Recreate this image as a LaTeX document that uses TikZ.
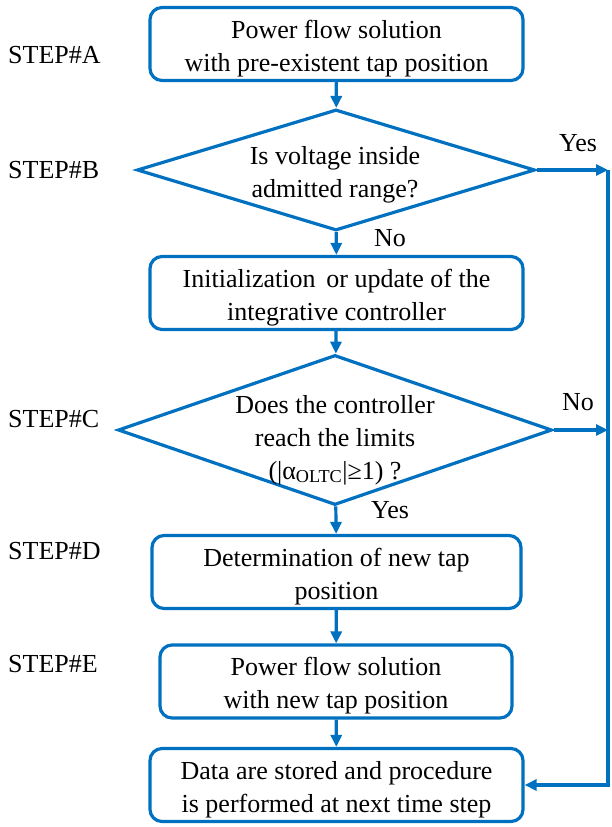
\documentclass[tikz,border=0pt]{standalone}
\usepackage{fontspec}
\setmainfont{Liberation Serif}
\usetikzlibrary{shapes.geometric,arrows.meta}
\definecolor{flowblue}{RGB}{0,112,192}
\begin{document}
\begin{tikzpicture}[x=1pt,y=-1pt,
  every node/.append style={font=\fontsize{26}{33}\selectfont},
  box/.style={draw=flowblue,line width=3.2pt,rounded corners=12pt,minimum height=73pt,align=center,inner sep=0pt,
    text height=60pt},
  decision/.style={draw=flowblue,line width=3.2pt,diamond,inner sep=0pt},
  flow/.style={flowblue,line width=3.2pt,-{Triangle[length=12pt,width=11pt]}},
  steplabel/.style={anchor=west,inner sep=0pt}]
\useasboundingbox (0,0) rectangle (611,827);
% boxes and decisions
\node[box,minimum width=373pt] (pfold) at (336.5,44) {Power flow solution\\with pre-existent tap position};
\node[decision,minimum width=398pt,minimum height=121pt] (range) at (336,170) {};
\node[align=center,inner sep=0pt] (rangetext) at (335,175) {Is voltage inside\\admitted range?};
\node[box,minimum width=373pt] (init) at (336.5,293) {Initialization\, or update of the\\integrative controller};
\node[decision,minimum width=434pt,minimum height=150pt] (limits) at (335,430) {};
\node[align=center,inner sep=0pt] (limitstext) at (335,440) {Does the controller\\reach the limits\\(|α\textsubscript{OLTC}|≥1) ?};
\node[box,minimum width=369pt] (newtap) at (336.5,572) {Determination of new tap\\position};
\node[box,minimum width=352pt] (pfnew) at (336,681.5) {Power flow solution\\with new tap position};
\node[box,minimum width=373pt] (store) at (336.5,785) {Data are stored and procedure\\is performed at next time step};
% step labels
\node[steplabel] (stepA) at (8,55) {STEP\#A};
\node[steplabel] (stepB) at (8,170) {STEP\#B};
\node[steplabel] (stepC) at (8,419) {STEP\#C};
\node[steplabel] (stepD) at (8,551) {STEP\#D};
\node[steplabel] (stepE) at (8,664) {STEP\#E};
% rail on the right
\coordinate (railtop) at (608,170);
\coordinate (railmid) at (608,430);
\coordinate (railbot) at (608,785);
% connectors
\draw[flow] (pfold) -- (range);
\draw[flow] (range) -- (init);
\draw[flow] (init) -- (limits);
\draw[flow] (limits) -- (newtap);
\draw[flow] (newtap) -- (pfnew);
\draw[flow] (pfnew) -- (store);
\draw[flow] (range.east) -- (railtop);
\draw[flow] (limits.east) -- (railmid);
\draw[flow] (railtop) -- (railbot) -- (store.east);
% answers
\node (yesB) at (578,143) {Yes};
\node (noB) at (390,238) {No};
\node (noC) at (578,402) {No};
\node (yesC) at (390,510) {Yes};
\end{tikzpicture}
\end{document}
